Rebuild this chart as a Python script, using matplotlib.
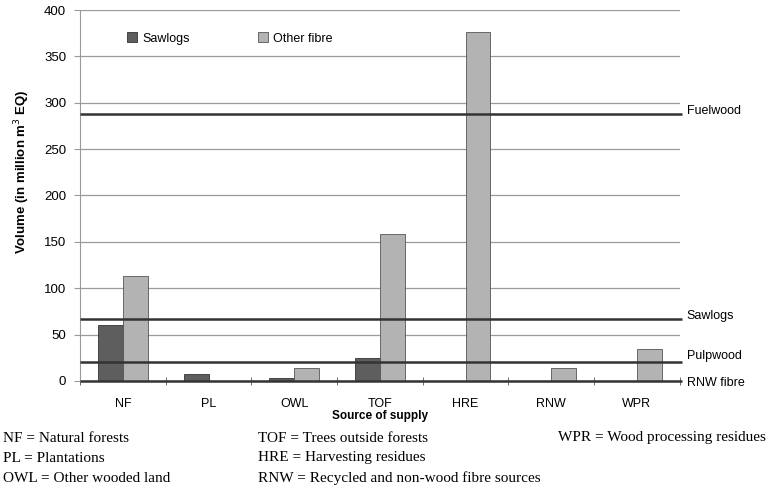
import numpy as np
import matplotlib.pyplot as plt
from matplotlib.patches import Patch

# Data
categories = ['NF', 'PL', 'OWL', 'TOF', 'HRE', 'RNW', 'WPR']
sawlogs = [60, 7, 3, 25, 0, 0, 0]
other_fibre = [113, 0, 14, 158, 376, 14, 35]

# Demand lines
demand_names = ['Fuelwood', 'Sawlogs', 'Pulpwood', 'RNW fibre']
demand_values = [288, 67, 21, 0]

footnotes = [
    ['NF = Natural forests', 'PL = Plantations', 'OWL = Other wooded land'],
    ['TOF = Trees outside forests', 'HRE = Harvesting residues',
     'RNW = Recycled and non-wood fibre sources'],
    ['WPR = Wood processing residues'],
]

plt.rcParams['font.family'] = ['Liberation Sans', 'DejaVu Sans']

fig = plt.figure(figsize=(7.7, 4.88), dpi=100)
ax = fig.add_axes([0.1039, 0.2193, 0.779, 0.7602])

x = np.arange(len(categories))
w = 0.29
ax.bar(x - w / 2, sawlogs, w, color='#5e5e5e', edgecolor='#333333', linewidth=0.6,
       label='Sawlogs', zorder=3)
ax.bar(x + w / 2, other_fibre, w, color='#b3b3b3', edgecolor='#555555', linewidth=0.6,
       label='Other fibre', zorder=3)

ax.set_xlim(-0.5, len(categories) - 0.5)
ax.set_ylim(0, 400)
ax.set_yticks(range(0, 401, 50))
ax.yaxis.grid(True, color='#9a9a9a', linewidth=0.9)
ax.set_axisbelow(True)

ax.set_xticks(x)
ax.set_xticklabels(categories, fontsize=9)
ax.set_xticks(np.arange(-0.5, len(categories), 1), minor=True)
ax.tick_params(axis='x', which='major', length=0, pad=12)
ax.tick_params(axis='x', which='minor', length=6, direction='inout', color='#555555')
ax.tick_params(axis='y', labelsize=9.5, length=4, color='#9a9a9a', pad=6)

for s in ['top', 'right']:
    ax.spines[s].set_visible(False)
ax.spines['left'].set_color('#9a9a9a')
ax.spines['bottom'].set_visible(False)

# Demand lines with labels on the right
label_offsets = [3, 3, 6, -2]
for name, val, off in zip(demand_names, demand_values, label_offsets):
    ax.hlines(val, -0.5, 6.52, color='#333333', linewidth=1.8, clip_on=False, zorder=4)
    ax.text(6.58, val + off, name, fontsize=9, va='center', ha='left')

ax.set_ylabel('Volume (in million m$^3$ EQ)', fontsize=9.5, fontweight='bold')
ax.yaxis.set_label_coords(-0.08, 0.563)
ax.set_xlabel('Source of supply', fontsize=8.5, fontweight='bold', labelpad=0)

handles = [Patch(facecolor='#5e5e5e', edgecolor='#333333', linewidth=0.6),
           Patch(facecolor='#b3b3b3', edgecolor='#555555', linewidth=0.6)]
ax.legend(handles, ['Sawlogs', 'Other fibre'], ncol=2, frameon=False, fontsize=9,
          loc='upper left', bbox_to_anchor=(0.06, 0.97), handlelength=0.8,
          handleheight=0.8, handletextpad=0.4, columnspacing=5.5)

# Footnotes
col_x = [3, 258, 558]
row_y = [438, 458, 478]
for cx, col in zip(col_x, footnotes):
    for ry, txt in zip(row_y, col):
        fig.text(cx / 770, 1 - ry / 488, txt, fontsize=11, va='center', ha='left',
                 family=['Liberation Serif', 'DejaVu Serif'])

fig.savefig('out.png', dpi=100)
